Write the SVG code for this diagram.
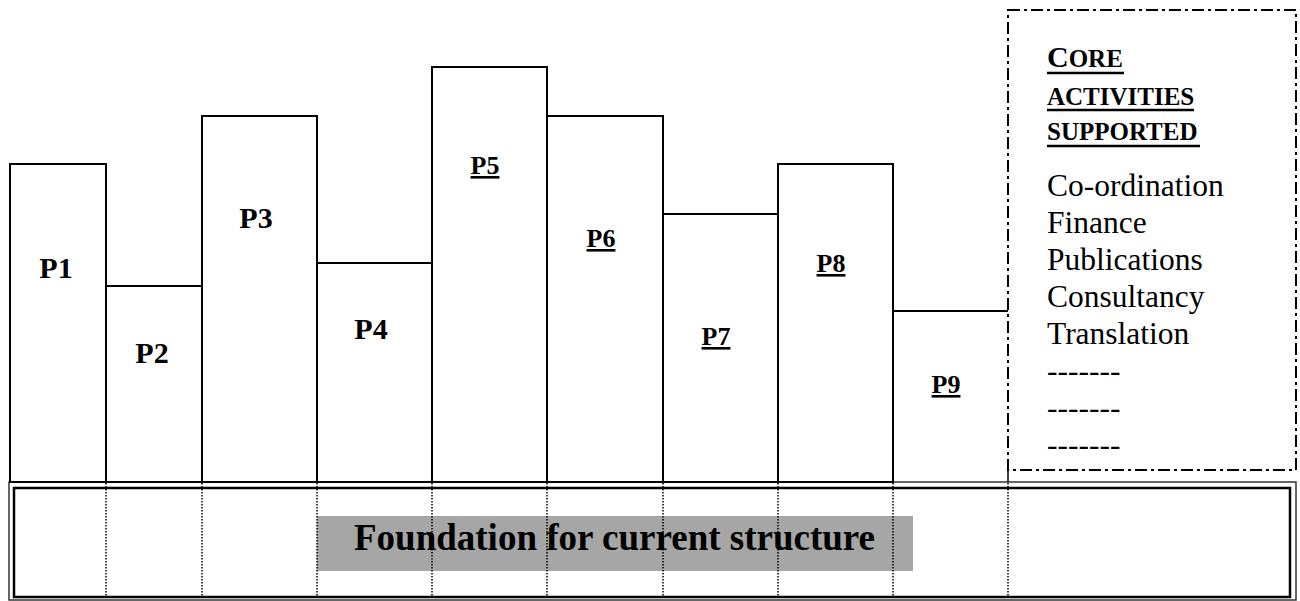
<svg xmlns="http://www.w3.org/2000/svg" width="1300" height="601" viewBox="0 0 1300 601">
<style>
.bar{fill:#fff;stroke:#000;stroke-width:2}
.lbl{font-family:"Liberation Serif","Times New Roman",serif;font-weight:bold;fill:#000;text-anchor:middle}
.big{font-size:30px}
.sm{font-size:26px;text-decoration:underline}
.list{font-family:"Liberation Serif","Times New Roman",serif;font-size:31.5px;fill:#000}
.hdr{font-family:"Liberation Serif","Times New Roman",serif;font-weight:bold;font-size:25px;fill:#000}
.ul{stroke:#000;stroke-width:2.5}
.dot{stroke:#000;stroke-width:1.5;stroke-dasharray:1.5 1.5}
</style>
<rect width="1300" height="601" fill="#fff"/>
<g id="foundation">
<rect x="9" y="482" width="1287" height="118" fill="#fff" stroke="#333" stroke-width="1.5"/>
<rect x="14" y="488" width="1276" height="109" fill="none" stroke="#000" stroke-width="2.5"/>
<rect x="317" y="516" width="596" height="55" fill="#a6a6a6"/>
<text x="614.5" y="550" class="lbl" font-size="37">Foundation for current structure</text>
</g>
<g id="connectors">
<line class="dot" x1="106" y1="483" x2="106" y2="597"/>
<line class="dot" x1="202" y1="483" x2="202" y2="597"/>
<line class="dot" x1="317" y1="483" x2="317" y2="597"/>
<line class="dot" x1="432" y1="483" x2="432" y2="597"/>
<line class="dot" x1="547" y1="483" x2="547" y2="597"/>
<line class="dot" x1="663" y1="483" x2="663" y2="597"/>
<line class="dot" x1="778" y1="483" x2="778" y2="597"/>
<line class="dot" x1="893" y1="483" x2="893" y2="597"/>
<line class="dot" x1="1008" y1="483" x2="1008" y2="597"/>
</g>
<g id="p1"><rect class="bar" x="10" y="164" width="96" height="318"/><text class="lbl big" x="56" y="278">P1</text></g>
<g id="p2"><rect class="bar" x="106" y="286" width="96" height="196"/><text class="lbl big" x="152" y="363">P2</text></g>
<g id="p3"><rect class="bar" x="202" y="116" width="115" height="366"/><text class="lbl big" x="256" y="228">P3</text></g>
<g id="p4"><rect class="bar" x="317" y="263" width="115" height="219"/><text class="lbl big" x="371" y="339">P4</text></g>
<g id="p5"><rect class="bar" x="432" y="67" width="115" height="415"/><text class="lbl sm" x="485" y="174">P5</text></g>
<g id="p6"><rect class="bar" x="547" y="116" width="116" height="366"/><text class="lbl sm" x="601" y="247">P6</text></g>
<g id="p7"><rect class="bar" x="663" y="214" width="115" height="268"/><text class="lbl sm" x="716" y="345">P7</text></g>
<g id="p8"><rect class="bar" x="778" y="164" width="115" height="318"/><text class="lbl sm" x="831" y="272">P8</text></g>
<g id="p9"><path class="bar" d="M893,482 V311 H1008"/><text class="lbl sm" x="946" y="393">P9</text></g>
<g id="core">
<rect x="1008" y="10" width="288" height="460" fill="none" stroke="#000" stroke-width="2" stroke-dasharray="12 4 3 4"/>
<line x1="1008" y1="470" x2="1008" y2="482" stroke="#000" stroke-width="1.5"/>
<text class="hdr" x="1047" y="67"><tspan font-size="30">C</tspan>ORE</text>
<line class="ul" x1="1047" y1="73" x2="1124" y2="73"/>
<text class="hdr" x="1047" y="105">ACTIVITIES</text>
<line class="ul" x1="1047" y1="110" x2="1194" y2="110"/>
<text class="hdr" x="1047" y="140">SUPPORTED</text>
<line class="ul" x1="1047" y1="146" x2="1200" y2="146"/>
<text class="list" x="1047" y="196">Co-ordination</text>
<text class="list" x="1047" y="233">Finance</text>
<text class="list" x="1047" y="270">Publications</text>
<text class="list" x="1047" y="307">Consultancy</text>
<text class="list" x="1047" y="344">Translation</text>
<text class="list" x="1047" y="381">-------</text>
<text class="list" x="1047" y="418">-------</text>
<text class="list" x="1047" y="455">-------</text>
</g>
</svg>
